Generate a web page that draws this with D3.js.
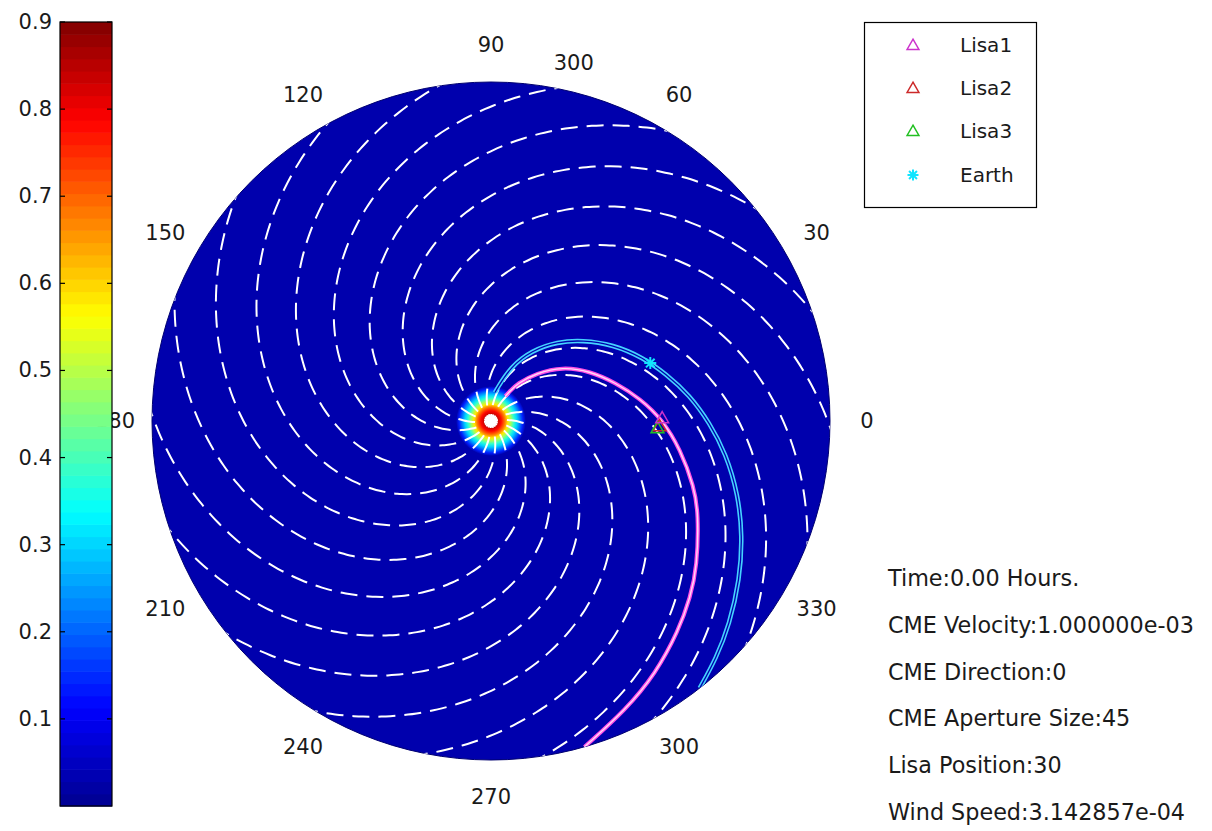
<!DOCTYPE html>
<html>
<head>
<meta charset="utf-8">
<script src="https://cdn.jsdelivr.net/npm/d3@7"></script>
<style>
  body { margin: 0; background: #fff; }
  svg { display: block; }
  text { font-family: "DejaVu Sans", sans-serif; fill: #1a1a1a; }
</style>
</head>
<body>
<svg id="chart" width="1212" height="831"></svg>
<script>
// ---- colour bar ----
const colorMin = 0;
const colorMax = 0.9;
const colorTicks = [0.1, 0.2, 0.3, 0.4, 0.5, 0.6, 0.7, 0.8, 0.9];

// ---- polar grid labels (degrees) ----
const angleTicks = [0, 30, 60, 90, 120, 150, 180, 210, 240, 270, 300, 330];
const extraLabelText = ["300"];
const extraLabelAngle = [77];
const extraLabelRadius = [2.17];

// ---- domain: heliocentric distance in AU ----
const maxRadius = 2;

// ---- density around the Sun: radius (AU) vs. value ----
const sunProfileR = [0, 0.035, 0.06, 0.082, 0.10, 0.118, 0.135, 0.153, 0.171, 0.188, 0.206];
const sunProfileV = [0.9, 0.85, 0.78, 0.68, 0.58, 0.48, 0.38, 0.30, 0.22, 0.14, 0.03];
const backgroundValue = 0.03;

// ---- Parker spiral field lines ----
const armStartAngles = [11, 31, 51, 71, 91, 111, 131, 151, 171, 191, 211, 231, 251, 271, 291, 311, 331, 351];
const armTwist = 76; // degrees of winding per AU

// ---- field line through the Lisa spacecraft (AU, deg) ----
const lisaPathR = [0.17, 0.20, 0.27, 0.39, 0.53, 0.65, 0.77, 0.89, 1.01, 1.13, 1.26, 1.34, 1.49, 1.57, 1.66, 1.78, 1.88, 2.00];
const lisaPathAngle = [60, 58, 55, 46.5, 37, 27, 17, 8.5, 0.5, -8.5, -18, -24, -35.3, -41.5, -48.2, -57, -65, -74];

// ---- field line through the Earth (AU, deg) ----
const earthPathR = [0.17, 0.19, 0.34, 0.48, 0.61, 0.72, 0.85, 0.97, 1.07, 1.18, 1.29, 1.40, 1.52, 1.63, 1.74, 1.85, 1.93, 2.00];
const earthPathAngle = [82, 80, 70, 60, 50, 41.5, 32, 22.8, 15, 7.5, -0.5, -8, -16.5, -24.5, -32.5, -40.5, -46.5, -52];

// ---- bodies ----
const bodyNames = ["Lisa1", "Lisa2", "Lisa3", "Earth"];
const bodyR = [1.01, 0.995, 0.983, 1.0];
const bodyAngle = [1.0, -1.7, -2.4, 20];
const bodyColors = ["#cc33cc", "#cc2a2a", "#22c022", "#11e5ff"];
const bodyShapes = ["triangle", "triangle", "triangle", "asterisk"];

// ---- run parameters ----
const infoLines = [
  "Time:0.00 Hours.",
  "CME Velocity:1.000000e-03",
  "CME Direction:0",
  "CME Aperture Size:45",
  "Lisa Position:30",
  "Wind Speed:3.142857e-04"
];

// ================= drawing =================
const svg = d3.select("#chart");
const cx = 491, cy = 421, diskR = 339;

// jet colour map
const jetStops = [0, 1/8, 3/8, 5/8, 7/8, 1].map(f => colorMin + f * (colorMax - colorMin));
const jet = d3.scaleLinear()
  .domain(jetStops)
  .range(["#00008f", "#0000ff", "#00ffff", "#ffff00", "#ff0000", "#800000"])
  .interpolate(d3.interpolateRgb)
  .clamp(true);

const r = d3.scaleLinear().domain([0, maxRadius]).range([0, diskR]);
const toRad = deg => (90 - deg) * Math.PI / 180; // lineRadial: clockwise from north

const defs = svg.append("defs");
defs.append("clipPath").attr("id", "diskClip")
  .append("circle").attr("r", diskR);

const sunGrad = defs.append("radialGradient")
  .attr("id", "sunGrad")
  .attr("gradientUnits", "userSpaceOnUse")
  .attr("cx", 0).attr("cy", 0)
  .attr("r", r(d3.max(sunProfileR)));
sunGrad.selectAll("stop")
  .data(sunProfileR.map((d, i) => ({ rr: d, v: sunProfileV[i] })))
  .join("stop")
  .attr("offset", d => d.rr / d3.max(sunProfileR))
  .attr("stop-color", d => jet(d.v));

const polar = svg.append("g").attr("transform", `translate(${cx},${cy})`);

// angle labels
polar.append("g").selectAll("text")
  .data(angleTicks)
  .join("text")
  .attr("x", d => 376 * Math.cos(d * Math.PI / 180))
  .attr("y", d => -376 * Math.sin(d * Math.PI / 180))
  .attr("text-anchor", "middle")
  .attr("dominant-baseline", "central")
  .attr("font-size", 21)
  .text(d => d);

polar.append("g").selectAll("text")
  .data(extraLabelText)
  .join("text")
  .attr("x", (d, i) => r(extraLabelRadius[i]) * Math.cos(extraLabelAngle[i] * Math.PI / 180))
  .attr("y", (d, i) => -r(extraLabelRadius[i]) * Math.sin(extraLabelAngle[i] * Math.PI / 180))
  .attr("text-anchor", "middle")
  .attr("dominant-baseline", "central")
  .attr("font-size", 21)
  .text(d => d);

// disk
polar.append("circle")
  .attr("r", diskR)
  .attr("fill", jet(backgroundValue))
  .attr("stroke", "#000070")
  .attr("stroke-width", 1);

// density around the sun
polar.append("circle")
  .attr("r", r(d3.max(sunProfileR)))
  .attr("fill", "url(#sunGrad)");

const content = polar.append("g").attr("clip-path", "url(#diskClip)");

// spiral field lines
const radial = d3.lineRadial()
  .angle(d => toRad(d[1]))
  .radius(d => r(d[0]));

const armRadii = d3.range(0, maxRadius + 0.1, 0.02);
content.append("g").selectAll("path")
  .data(armStartAngles)
  .join("path")
  .attr("d", a0 => radial.curve(d3.curveCatmullRom)(armRadii.map(rr => [rr, a0 - armTwist * rr])))
  .attr("fill", "none")
  .attr("stroke", "#ffffff")
  .attr("stroke-width", 2)
  .attr("stroke-dasharray", "17,9")
  .attr("stroke-dashoffset", 10);

// bright core where the field lines converge
content.append("circle").attr("r", 6).attr("fill", "#ffffff");

const smooth = d3.lineRadial()
  .angle(d => toRad(d[1]))
  .radius(d => r(d[0]))
  .curve(d3.curveBasis);

// field line through the Earth
const earthPts = earthPathR.map((d, i) => [d, earthPathAngle[i]]);
content.append("path")
  .attr("d", smooth(earthPts))
  .attr("fill", "none")
  .attr("stroke", "#45d2ff")
  .attr("stroke-width", 4.5);
content.append("path")
  .attr("d", smooth(earthPts))
  .attr("fill", "none")
  .attr("stroke", jet(backgroundValue))
  .attr("stroke-width", 1.3);

// field line through the Lisa spacecraft
const lisaPts = lisaPathR.map((d, i) => [d, lisaPathAngle[i]]);
content.append("path")
  .attr("d", smooth(lisaPts))
  .attr("fill", "none")
  .attr("stroke", "#ff4fe6")
  .attr("stroke-width", 4);
content.append("path")
  .attr("d", smooth(lisaPts))
  .attr("fill", "none")
  .attr("stroke", "#ffd8f6")
  .attr("stroke-width", 1.4);

// markers
function drawMarker(g, shape, color, x, y, s) {
  if (shape === "triangle") {
    g.append("path")
      .attr("d", d3.symbol(d3.symbolTriangle, s * s * 0.5)())
      .attr("transform", `translate(${x},${y + 1})`)
      .attr("fill", "none")
      .attr("stroke", color)
      .attr("stroke-width", 1.5);
  } else {
    const h = s / 2, d = h * 0.72;
    g.append("path")
      .attr("d", `M${x - h},${y}L${x + h},${y}M${x},${y - h}L${x},${y + h}` +
                 `M${x - d},${y - d}L${x + d},${y + d}M${x - d},${y + d}L${x + d},${y - d}`)
      .attr("stroke", color)
      .attr("stroke-width", 2);
  }
}

const bodyLayer = polar.append("g");
[1, 2, 0, 3].forEach(i => {
  const a = bodyAngle[i] * Math.PI / 180;
  drawMarker(bodyLayer, bodyShapes[i], bodyColors[i],
             r(bodyR[i]) * Math.cos(a), -r(bodyR[i]) * Math.sin(a), 12);
});

// colour bar
const cbX = 60, cbW = 52;
const cbY = d3.scaleLinear().domain([colorMin, colorMax]).range([806, 22]);
const nBands = 64;
const cb = svg.append("g");
cb.selectAll("rect")
  .data(d3.range(nBands))
  .join("rect")
  .attr("x", cbX)
  .attr("y", i => cbY(colorMin + (i + 1) * (colorMax - colorMin) / nBands))
  .attr("width", cbW)
  .attr("height", (cbY(0) - cbY(colorMax)) / nBands + 0.6)
  .attr("fill", i => jet(colorMin + (i + 0.5) * (colorMax - colorMin) / nBands));
cb.append("rect")
  .attr("x", cbX).attr("y", cbY(colorMax))
  .attr("width", cbW).attr("height", cbY(colorMin) - cbY(colorMax))
  .attr("fill", "none").attr("stroke", "#000").attr("stroke-width", 1.2);
const cbTicks = cb.append("g").selectAll("g")
  .data(colorTicks)
  .join("g")
  .attr("transform", d => `translate(0,${cbY(d)})`);
cbTicks.append("line").attr("x1", cbX).attr("x2", cbX + 5).attr("stroke", "#000").attr("stroke-width", 1.2);
cbTicks.append("line").attr("x1", cbX + cbW - 5).attr("x2", cbX + cbW).attr("stroke", "#000").attr("stroke-width", 1.2);
cbTicks.append("text")
  .attr("x", cbX - 8)
  .attr("text-anchor", "end")
  .attr("dominant-baseline", "central")
  .attr("font-size", 21)
  .text(d => d3.format(".1f")(d));

// legend
const legend = svg.append("g");
legend.append("rect")
  .attr("x", 864.5).attr("y", 22.5)
  .attr("width", 172).attr("height", 185)
  .attr("fill", "#fff").attr("stroke", "#000").attr("stroke-width", 1.2);
const legendY = [45, 88, 131, 175];
bodyNames.forEach((name, i) => {
  drawMarker(legend, bodyShapes[i], bodyColors[i], 913, legendY[i], 11);
  legend.append("text")
    .attr("x", 960).attr("y", legendY[i])
    .attr("dominant-baseline", "central")
    .attr("font-size", 20)
    .text(name);
});

// run parameters
svg.append("g").selectAll("text")
  .data(infoLines)
  .join("text")
  .attr("x", 888)
  .attr("y", (d, i) => 578 + i * 46.8)
  .attr("dominant-baseline", "central")
  .attr("font-size", 22.3)
  .text(d => d);
</script>
</body>
</html>
